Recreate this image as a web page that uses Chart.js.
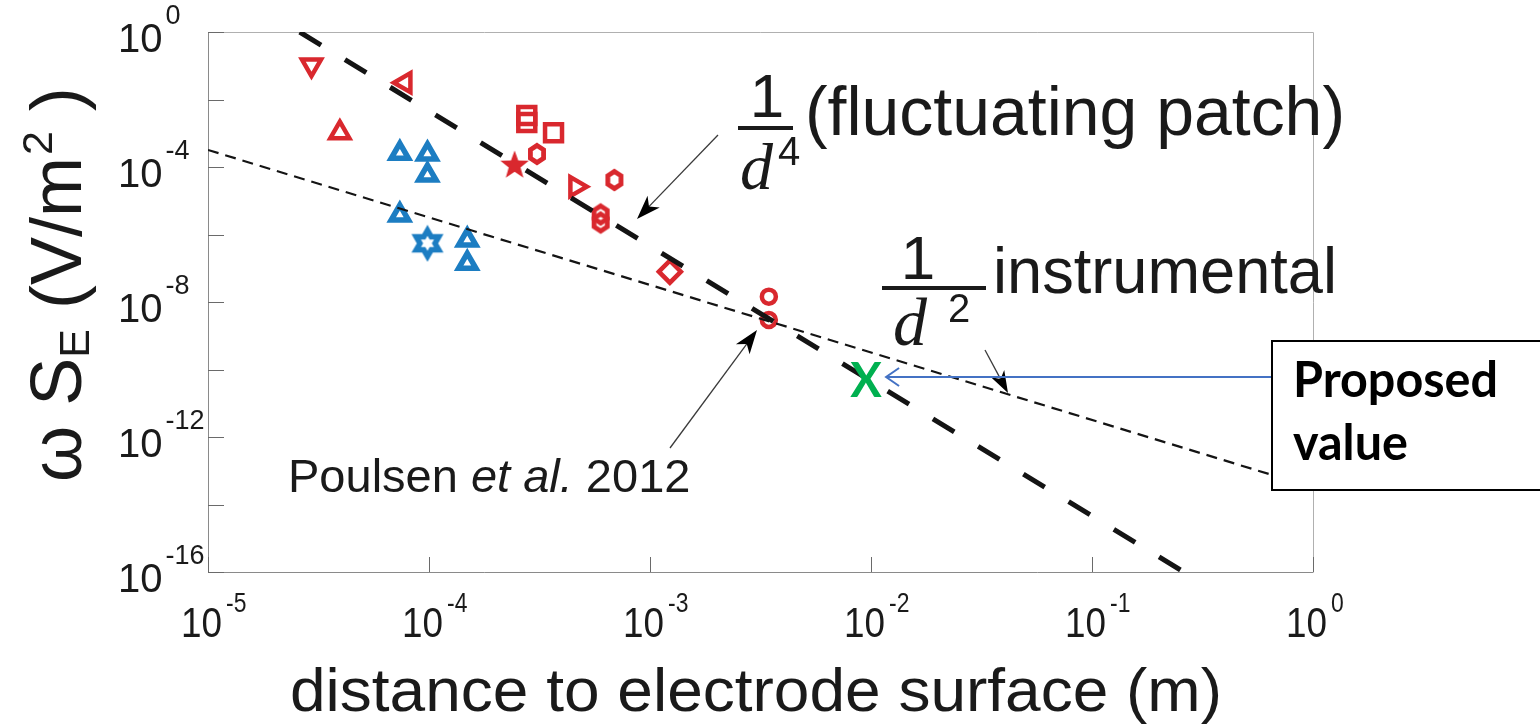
<!DOCTYPE html>
<html><head><meta charset="utf-8">
<script src="https://cdn.jsdelivr.net/npm/chart.js@4.4.0/dist/chart.umd.min.js"></script>
<style>html,body{margin:0;padding:0;background:#fff;overflow:hidden}#wrap{width:1540px;height:727px;position:relative}</style>
</head><body><div id="wrap"><canvas id="c" width="1540" height="727"></canvas></div>
<script>
// ---------- data ----------
const xTickValues = [1e-5, 1e-4, 1e-3, 1e-2, 1e-1, 1];
const xTickExponents = ['-5', '-4', '-3', '-2', '-1', '0'];
const yTickValues = [1, 1e-2, 1e-4, 1e-6, 1e-8, 1e-10, 1e-12, 1e-14, 1e-16];
const yLabelValues = [1, 1e-4, 1e-8, 1e-12, 1e-16];
const yLabelExponents = ['0', '-4', '-8', '-12', '-16'];

const patchLineX = [2.6e-5, 0.26];
const patchLineY = [1, 1e-16];
const instrLineX = [1e-5, 1];
const instrLineY = [3.2e-4, 3.2e-14];

const blueTriX = [7.38e-5, 9.84e-5, 9.84e-5, 7.38e-5, 1.49e-4, 1.49e-4];
const blueTriY = [2.55e-4, 2.43e-4, 5.79e-5, 3.78e-6, 6.87e-7, 1.40e-7];
const blueHexagramX = [9.84e-5];
const blueHexagramY = [5.49e-7];

const redUpTriX = [3.95e-5];
const redUpTriY = [1.04e-3];
const redDownTriX = [2.94e-5];
const redDownTriY = [0.105];
const redLeftTriX = [7.78e-5];
const redLeftTriY = [0.0315];
const redRightTriX = [4.62e-4];
const redRightTriY = [2.62e-5];
const redSquareX = [2.77e-4, 2.77e-4, 3.66e-4];
const redSquareY = [3.36e-3, 2.08e-3, 1.04e-3];
const redHexX = [3.08e-4, 6.9e-4, 5.98e-4, 5.98e-4];
const redHexY = [2.43e-4, 4.12e-5, 3.92e-6, 2.27e-6];
const redStarX = [2.44e-4];
const redStarY = [1.23e-4];
const redDiamondX = [1.23e-3];
const redDiamondY = [7.9e-8];
const redCircleX = [3.45e-3, 3.45e-3];
const redCircleY = [1.44e-8, 2.93e-9];

const proposedX = [9.5e-3];
const proposedY = [4.9e-11];

// ---------- styles ----------
const RED = '#D9282E';
const BLUE = '#1C7DC2';
const TXT = '#1a1a1a';

function pts(xs, ys) { return xs.map((x, i) => ({x: x, y: ys[i]})); }

function makeCanvas(size, draw) {
  const c = document.createElement('canvas');
  c.width = size; c.height = size;
  const g = c.getContext('2d');
  draw(g, size / 2);
  return c;
}
const hexImg = makeCanvas(30, (g, c) => {
  g.beginPath();
  for (let i = 0; i < 6; i++) {
    const a = -Math.PI / 2 + i * Math.PI / 3;
    const px = c + 7.6 * Math.cos(a), py = c + 8.6 * Math.sin(a);
    i ? g.lineTo(px, py) : g.moveTo(px, py);
  }
  g.closePath(); g.lineWidth = 4.8; g.strokeStyle = RED; g.lineJoin = 'miter'; g.stroke();
});
const hexagramImg = makeCanvas(38, (g, c) => {
  g.beginPath();
  const R = 13, r = R / Math.sqrt(3);
  for (let i = 0; i < 12; i++) {
    const a = -Math.PI / 2 + i * Math.PI / 6;
    const rr = i % 2 ? r : R;
    const px = c + rr * Math.cos(a), py = c + rr * Math.sin(a);
    i ? g.lineTo(px, py) : g.moveTo(px, py);
  }
  g.closePath(); g.lineWidth = 5.5; g.strokeStyle = BLUE; g.lineJoin = 'miter'; g.stroke();
});
const star5Img = makeCanvas(34, (g, c) => {
  g.beginPath();
  const R = 15, r = 6.2;
  for (let i = 0; i < 10; i++) {
    const a = -Math.PI / 2 + i * Math.PI / 5;
    const rr = i % 2 ? r : R;
    const px = c + rr * Math.cos(a), py = c + 1.5 + rr * Math.sin(a);
    i ? g.lineTo(px, py) : g.moveTo(px, py);
  }
  g.closePath(); g.fillStyle = RED; g.fill();
});

function markerSet(data, style, color, radius, bw, rot) {
  return {
    type: 'scatter', data: data, order: 2,
    pointStyle: style, pointRadius: radius, pointHoverRadius: radius,
    pointBorderWidth: bw, pointHoverBorderWidth: bw,
    pointRotation: rot || 0,
    borderColor: color, backgroundColor: 'rgba(0,0,0,0)',
    pointBorderColor: color, pointBackgroundColor: 'rgba(0,0,0,0)',
    showLine: false
  };
}

const datasets = [
  { type: 'scatter', data: pts(patchLineX, patchLineY), showLine: true, order: 0,
    borderColor: '#141414', borderWidth: 5, borderDash: [25, 28], borderCapStyle: 'butt',
    pointRadius: 0, pointHoverRadius: 0, fill: false },
  { type: 'scatter', data: pts(instrLineX, instrLineY), showLine: true, order: 0,
    borderColor: '#141414', borderWidth: 2.2, borderDash: [11, 7], borderCapStyle: 'butt',
    pointRadius: 0, pointHoverRadius: 0, fill: false },
  markerSet(pts(blueTriX, blueTriY), 'triangle', BLUE, 10, 5.5, 0),
  markerSet(pts(blueHexagramX, blueHexagramY), hexagramImg, BLUE, 10, 0, 0),
  markerSet(pts(redUpTriX, redUpTriY), 'triangle', RED, 11, 4.5, 0),
  markerSet(pts(redDownTriX, redDownTriY), 'triangle', RED, 11, 4.5, 180),
  markerSet(pts(redLeftTriX, redLeftTriY), 'triangle', RED, 11, 4.5, 270),
  markerSet(pts(redRightTriX, redRightTriY), 'triangle', RED, 11, 4.5, 90),
  markerSet(pts(redSquareX, redSquareY), 'rect', RED, 12, 4.5, 0),
  markerSet(pts(redHexX, redHexY), hexImg, RED, 9, 0, 0),
  markerSet(pts(redStarX, redStarY), star5Img, RED, 12, 0, 0),
  markerSet(pts(redDiamondX, redDiamondY), 'rectRot', RED, 11, 4.5, 0),
  markerSet(pts(redCircleX, redCircleY), 'circle', RED, 7, 4.5, 0),
  { type: 'scatter', data: pts(proposedX, proposedY), pointRadius: 0, pointHoverRadius: 0, order: 3 }
];

function fitText(ctx, text, x, y, w) {
  const m = ctx.measureText(text).width;
  ctx.save(); ctx.translate(x, y); ctx.scale(w / m, 1); ctx.fillText(text, 0, 0); ctx.restore();
}
function arrow(ctx, x1, y1, x2, y2, len, wid) {
  const a = Math.atan2(y2 - y1, x2 - x1);
  ctx.save();
  ctx.strokeStyle = '#3a3a3a'; ctx.lineWidth = 1.3;
  ctx.beginPath(); ctx.moveTo(x1, y1);
  ctx.lineTo(x2 - Math.cos(a) * len * 0.7, y2 - Math.sin(a) * len * 0.7); ctx.stroke();
  ctx.translate(x2, y2); ctx.rotate(a);
  ctx.fillStyle = '#000';
  ctx.beginPath(); ctx.moveTo(0, 0); ctx.lineTo(-len, -wid / 2); ctx.lineTo(-len * 0.72, 0); ctx.lineTo(-len, wid / 2);
  ctx.closePath(); ctx.fill();
  ctx.restore();
}

const framePlugin = {
  id: 'frame',
  beforeDatasetsDraw(chart) {
    const ctx = chart.ctx, a = chart.chartArea;
    const xs = chart.scales.x, ys = chart.scales.y;
    ctx.save();
    ctx.lineWidth = 1;
    ctx.strokeStyle = '#b0b0b0';
    ctx.beginPath();
    ctx.moveTo(a.left, a.top + 0.5); ctx.lineTo(a.right + 0.5, a.top + 0.5); ctx.lineTo(a.right + 0.5, a.bottom);
    ctx.stroke();
    ctx.strokeStyle = '#8a8a8a';
    ctx.beginPath();
    ctx.moveTo(a.left + 0.5, a.top); ctx.lineTo(a.left + 0.5, a.bottom + 0.5); ctx.lineTo(a.right + 0.5, a.bottom + 0.5);
    ctx.stroke();
    ctx.strokeStyle = '#6a6a6a';
    ctx.beginPath();
    yTickValues.forEach(v => {
      const py = Math.round(ys.getPixelForValue(v)) + 0.5;
      ctx.moveTo(a.left, py); ctx.lineTo(a.left + 16, py);
    });
    xTickValues.forEach(v => {
      const px = Math.round(xs.getPixelForValue(v)) + 0.5;
      ctx.moveTo(px, a.bottom); ctx.lineTo(px, a.bottom - 15);
    });
    ctx.stroke();
    ctx.restore();
  },
  afterDraw(chart) {
    const ctx = chart.ctx, a = chart.chartArea;
    const xs = chart.scales.x, ys = chart.scales.y;
    ctx.save();
    ctx.fillStyle = TXT;
    ctx.textAlign = 'left'; ctx.textBaseline = 'alphabetic';
    // y tick labels
    yLabelValues.forEach((v, i) => {
      const py = ys.getPixelForValue(v);
      ctx.font = '40px "Liberation Sans", Arial, sans-serif';
      ctx.fillText('10', 118, py + 20);
      const w = ctx.measureText('10').width;
      ctx.font = '27px "Liberation Sans", Arial, sans-serif';
      ctx.fillText(yLabelExponents[i], 118 + w + 3, py - 8);
    });
    // x tick labels
    xTickValues.forEach((v, i) => {
      const px = xs.getPixelForValue(v);
      ctx.font = '42px "Liberation Sans", Arial, sans-serif';
      fitText(ctx, '10', px - 27, 637, 41);
      ctx.font = '27px "Liberation Sans", Arial, sans-serif';
      fitText(ctx, xTickExponents[i], px + 18, 612, ctx.measureText(xTickExponents[i]).width * 0.85);
    });
    // x title
    ctx.font = '62px "Liberation Sans", Arial, sans-serif';
    fitText(ctx, 'distance to electrode surface (m)', 290, 711, 932);
    // y title
    ctx.save();
    ctx.translate(81, 482); ctx.rotate(-Math.PI / 2);
    let cx = 0;
    const big = '72px "Liberation Sans", Arial, sans-serif';
    const small = '43px "Liberation Sans", Arial, sans-serif';
    ctx.font = big; ctx.fillText('\u03c9 S', cx, 0); cx += ctx.measureText('\u03c9 S').width;
    ctx.font = small; ctx.fillText('E', cx, 8); cx += ctx.measureText('E').width;
    ctx.font = big; ctx.fillText(' (V/m', cx, 0); cx += ctx.measureText(' (V/m').width;
    ctx.font = small; ctx.fillText('2', cx + 2, -29); cx += ctx.measureText('2').width + 2;
    ctx.font = big; ctx.fillText(' )', cx, 0);
    ctx.restore();

    // 1/d^4 label
    ctx.font = '62px "Liberation Sans", Arial, sans-serif';
    ctx.textAlign = 'center'; ctx.fillText('1', 767, 117); ctx.textAlign = 'left';
    ctx.fillRect(738, 126, 55, 4);
    ctx.font = 'italic 66px "Liberation Serif", "Times New Roman", serif';
    ctx.fillText('d', 740, 189);
    ctx.font = '40px "Liberation Sans", Arial, sans-serif';
    ctx.fillText('4', 778, 165);
    ctx.font = '68px "Liberation Sans", Arial, sans-serif';
    fitText(ctx, '(fluctuating patch)', 805, 135, 540);
    // 1/d^2 label
    ctx.font = '62px "Liberation Sans", Arial, sans-serif';
    ctx.textAlign = 'center'; ctx.fillText('1', 918, 279); ctx.textAlign = 'left';
    ctx.fillRect(882, 286, 104, 4);
    ctx.font = 'italic 68px "Liberation Serif", "Times New Roman", serif';
    ctx.fillText('d', 893, 345);
    ctx.font = '40px "Liberation Sans", Arial, sans-serif';
    ctx.fillText('2', 948, 322);
    ctx.font = '64px "Liberation Sans", Arial, sans-serif';
    fitText(ctx, 'instrumental', 993, 293, 344);
    // Poulsen et al. 2012
    ctx.font = '47px "Liberation Sans", Arial, sans-serif';
    let px0 = 288;
    ctx.fillText('Poulsen ', px0, 492); px0 += ctx.measureText('Poulsen ').width;
    ctx.font = 'italic 47px "Liberation Sans", Arial, sans-serif';
    ctx.fillText('et al.', px0, 492); px0 += ctx.measureText('et al.').width;
    ctx.font = '47px "Liberation Sans", Arial, sans-serif';
    ctx.fillText(' 2012', px0, 492);

    // arrows
    arrow(ctx, 718, 135, 637, 219, 24, 17);
    arrow(ctx, 670, 448, 757, 330, 24, 17);
    arrow(ctx, 985, 350, 1008, 393, 22, 15);

    // proposed value marker and arrow
    const gx = xs.getPixelForValue(proposedX[0]);
    const gy = ys.getPixelForValue(proposedY[0]);
    ctx.fillStyle = '#00B050';
    ctx.font = 'bold 47px Lato, "Open Sans", sans-serif';
    ctx.textAlign = 'center';
    ctx.fillText('X', gx, gy + 17);
    ctx.textAlign = 'left';
    const tipX = gx + 20, ay = gy - 3;
    ctx.strokeStyle = '#4472C4'; ctx.lineWidth = 2;
    ctx.beginPath(); ctx.moveTo(1272, ay); ctx.lineTo(tipX, ay); ctx.stroke();
    ctx.beginPath(); ctx.moveTo(tipX + 13, ay - 9); ctx.lineTo(tipX, ay); ctx.lineTo(tipX + 13, ay + 9); ctx.stroke();

    // box
    ctx.fillStyle = '#fff';
    ctx.fillRect(1272, 341, 300, 149);
    ctx.strokeStyle = '#000'; ctx.lineWidth = 2;
    ctx.strokeRect(1272, 341, 300, 149);
    ctx.fillStyle = '#000';
    ctx.font = 'bold 50px Lato, "Open Sans", sans-serif';
    const wP = ctx.measureText('Proposed').width;
    const sc = 205 / wP;
    fitText(ctx, 'Proposed', 1293, 397, 205);
    fitText(ctx, 'value', 1293, 460, ctx.measureText('value').width * sc);
    ctx.restore();
  }
};

new Chart(document.getElementById('c'), {
  type: 'scatter',
  data: { datasets: datasets },
  options: {
    responsive: false,
    animation: false,
    events: [],
    layout: { padding: { left: 208, top: 32, right: 227, bottom: 155 } },
    plugins: { legend: { display: false }, tooltip: { enabled: false } },
    scales: {
      x: { type: 'logarithmic', min: 1e-5, max: 1, display: false },
      y: { type: 'logarithmic', min: 1e-16, max: 1, display: false }
    }
  },
  plugins: [framePlugin]
});
</script>
</body></html>
